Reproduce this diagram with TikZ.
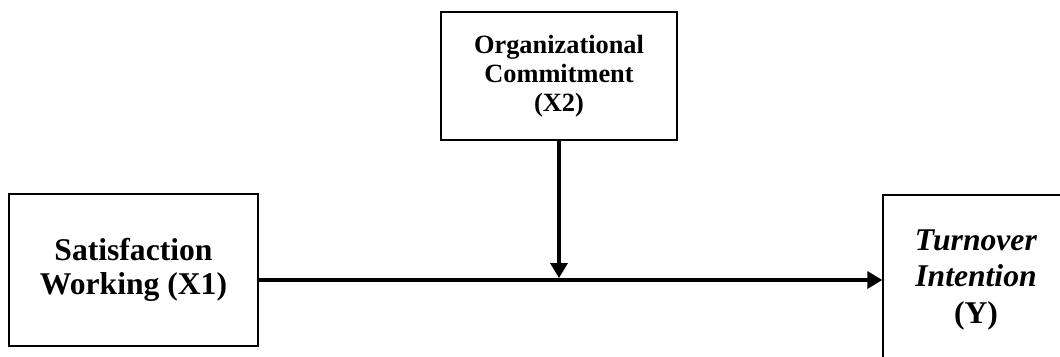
\documentclass[tikz,border=0pt]{standalone}
\usepackage{fontspec}
\setmainfont{Liberation Serif}
\usetikzlibrary{arrows.meta}
\tikzset{
	varbox/.style={draw, line width=0.7pt, align=center, inner sep=0pt},
	patharrow/.style={line width=2.2pt, -{Triangle[length=8.5pt, width=9.5pt]}}
}

\begin{document}
\begin{tikzpicture}
		%%%%% START %%%%%
		\useasboundingbox (0, 0) rectangle (21.2, 7.12);
		\clip (0, 0) rectangle (21.2, 7.12);
		
		\node[varbox, minimum width=4.72cm, minimum height=2.56cm, font=\fontsize{15}{16.5}\selectfont\bfseries] (org) at (11.18, 5.6) {Organizational\\Commitment\\(X2)};
		
		\node[varbox, minimum width=4.98cm, minimum height=3.04cm, font=\fontsize{18}{19}\selectfont\bfseries] (sat) at (2.67, 1.72) {Satisfaction\\Working (X1)};
		
		\node[varbox, minimum width=3.72cm, minimum height=3.4cm, font=\fontsize{18}{21}\selectfont\bfseries] (turn) at (19.52, 1.52) {\textit{Turnover}\\\textit{Intention}\\(Y)};
		
		\draw[patharrow] (sat.east |- turn.west) -- (turn.west);
		\draw[patharrow] (org.south) -- ([yshift=1.1pt]org.south |- turn.west);
		%%%%% END %%%%%
	\end{tikzpicture}
\end{document}
